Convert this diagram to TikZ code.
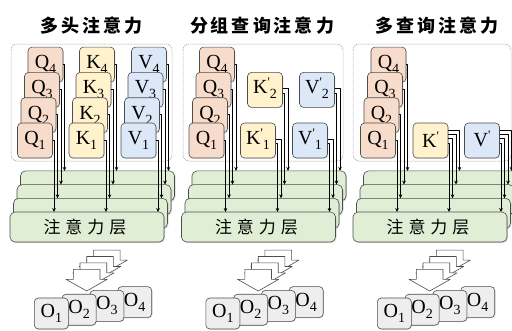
\documentclass[tikz,border=0pt]{standalone}
\usepackage{fontspec}
\setmainfont{Liberation Serif}
\newfontfamily\cjk{Noto Sans CJK SC}
\usetikzlibrary{arrows.meta,shadows}
\definecolor{qcol}{HTML}{F8DCCB}
\definecolor{kcol}{HTML}{FFF2CC}
\definecolor{vcol}{HTML}{DCE8F8}
\definecolor{lcol}{HTML}{E0EED6}
\definecolor{ocol}{HTML}{EEEEEE}
\definecolor{bdr}{HTML}{4D4D4D}
\newcommand\lsub[2]{#1\raisebox{-5pt}{\fontsize{14}{14}\selectfont #2}}
\newcommand\lprime{\smash{\raisebox{7pt}{\fontsize{13}{13}\selectfont\textquotesingle}}}
\newcommand\lpsub[2]{#1\lprime\raisebox{-5pt}{\fontsize{14}{14}\selectfont #2}}
\newcommand\ks{\kern3pt}
\newcommand\kl{\kern5pt}
\begin{document}
\begin{tikzpicture}[x=1pt,y=-1pt,line join=round,
 box/.style={draw=bdr,line width=0.6pt,rounded corners=4pt,minimum width=35pt,minimum height=35pt,inner sep=0pt,outer sep=0pt,anchor=north west,font=\fontsize{20}{20}\selectfont,drop shadow={shadow xshift=0.8pt,shadow yshift=-0.8pt,opacity=0.2}},
 layer/.style={draw=bdr,fill=lcol,line width=0.6pt,rounded corners=5pt,minimum width=154pt,minimum height=30pt,inner sep=0pt,outer sep=0pt,anchor=north west,drop shadow={shadow xshift=1pt,shadow yshift=-1pt,opacity=0.3}},
 obox/.style={box,fill=ocol,minimum width=34pt,minimum height=31pt},
 cont/.style={draw=gray!80,dash pattern=on 1.2pt off 0.8pt,line width=0.5pt,rounded corners=6pt},
 arr/.style={draw=black,line width=0.6pt,-{Stealth[length=4pt,width=3.6pt]}},
 barr/.style={draw=bdr,fill=white,line width=0.6pt},
 ttl/.style={font=\cjk\bfseries\fontsize{18}{18}\selectfont,inner sep=0pt},
 ltxt/.style={font=\cjk\fontsize{17}{17}\selectfont,inner sep=0pt}]
\useasboundingbox (0,0) rectangle (512,330);

% ---------- common parts of the three panels ----------
\foreach \p/\ox in {1/0,2/171.5,3/343}{
 \begin{scope}[xshift=\ox pt]
  \foreach \j in {4,3,2,1}
   \node[layer] (p\p l\j) at ({10+3.5*(\j-1)},{212-13.7*(\j-1)}) {};
  \node[ltxt] (p\p lt) at ([xshift=-2pt]p\p l1.center) {注\kl 意\kl 力\kl 层};
  \foreach \i in {4,3,2,1}
   \node[box,fill=qcol] (p\p q\i) at ({17.5+3.5*(\i-1)},{123-25.3*(\i-1)}) {\lsub{Q}{\i}};
  \foreach \k in {4,3,2,1}{
   \begin{scope}[shift={({6.7*(\k-1)},{-6.4*(\k-1)})}]
    \draw[barr] (73.3,269.3) -- (100,269.3) -- (100,279.3) -- (107.3,279.3)
      -- (86.7,291) -- (66,279.3) -- (73.3,279.3) -- cycle;
   \end{scope}}
  \foreach \i in {4,3,2,1}
   \node[obox] (p\p o\i) at ({34.3+27.8*(\i-1)},{298-3.8*(\i-1)}) {\lsub{O}{\i}};
 \end{scope}}

% ---------- containers and titles ----------
\draw[cont] (11,44) rectangle (172,161);
\draw[cont] (183,44) rectangle (343,161);
\draw[cont] (353,44) rectangle (511,161);
\node[ttl] (t1) at (92,26) {多\ks 头\ks 注\ks 意\ks 力};
\node[ttl] (t2) at (262,26) {分\ks 组\ks 查\ks 询\ks 注\ks 意\ks 力};
\node[ttl] (t3) at (437,26) {多\ks 查\ks 询\ks 注\ks 意\ks 力};

% ---------- panel 1: multi-head ----------
\foreach \i in {4,3,2,1}{
 \node[box,fill=kcol] (p1k\i) at ({69+3.5*(\i-1)},{123-25.3*(\i-1)}) {\lsub{K}{\i}};
 \node[box,fill=vcol] (p1v\i) at ({121+3.5*(\i-1)},{123-25.3*(\i-1)}) {\lsub{V}{\i}};}
\foreach \j in {1,2,3,4}{
 \draw[arr] ([yshift=-17pt]p1q\j.north east) -| ([xshift=44pt]p1l\j.north west);
 \draw[arr] ([yshift=-17pt]p1k\j.north east) -| ([xshift=96pt]p1l\j.north west);
 \draw[arr] ([yshift=-17pt]p1v\j.north east) -| ([xshift=148pt]p1l\j.north west);}

% ---------- panel 2: grouped-query ----------
\begin{scope}[xshift=171.5pt]
 \node[box,fill=kcol] (p2k2) at (76,72.4) {\lpsub{K}{2}};
 \node[box,fill=kcol] (p2k1) at (69,123) {\lpsub{K}{1}};
 \node[box,fill=vcol] (p2v2) at (128,72.4) {\lpsub{V}{2}};
 \node[box,fill=vcol] (p2v1) at (121,123) {\lpsub{V}{1}};
\end{scope}
\foreach \j in {1,2,3,4}
 \draw[arr] ([yshift=-17pt]p2q\j.north east) -| ([xshift=44pt]p2l\j.north west);
\draw[arr] ([yshift=-20.5pt]p2k1.north east) -| ([xshift=96pt]p2l1.north west);
\draw[arr] ([yshift=-16pt]p2k1.north east) -| ([xshift=96pt]p2l2.north west);
\draw[arr] ([yshift=-20.5pt]p2k2.north east) -| ([xshift=96pt]p2l3.north west);
\draw[arr] ([yshift=-16pt]p2k2.north east) -| ([xshift=96pt]p2l4.north west);
\draw[arr] ([yshift=-20.5pt]p2v1.north east) -| ([xshift=148pt]p2l1.north west);
\draw[arr] ([yshift=-16pt]p2v1.north east) -| ([xshift=148pt]p2l2.north west);
\draw[arr] ([yshift=-20.5pt]p2v2.north east) -| ([xshift=148pt]p2l3.north west);
\draw[arr] ([yshift=-16pt]p2v2.north east) -| ([xshift=148pt]p2l4.north west);

% ---------- panel 3: multi-query ----------
\begin{scope}[xshift=343pt]
 \node[box,fill=kcol] (p3k) at (70,123) {K\lprime};
 \node[box,fill=vcol] (p3v) at (121.5,123) {V\lprime};
\end{scope}
\foreach \j/\dy in {1/20,2/15.6,3/11.3,4/7}{
 \draw[arr] ([yshift=-17pt]p3q\j.north east) -| ([xshift=44pt]p3l\j.north west);
 \draw[arr] ([yshift=-\dy pt]p3k.north east) -| ([xshift=96pt]p3l\j.north west);
 \draw[arr] ([yshift=-\dy pt]p3v.north east) -| ([xshift=148pt]p3l\j.north west);}
\end{tikzpicture}
\end{document}
